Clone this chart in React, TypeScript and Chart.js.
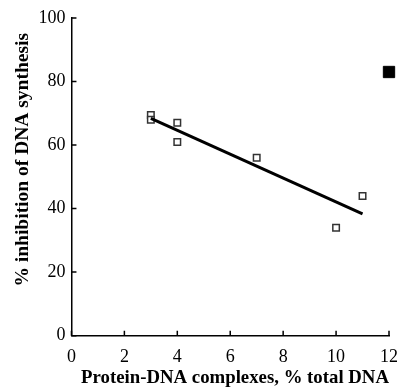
import React, { useEffect, useRef } from "react";
import { Chart, registerables } from "chart.js";

Chart.register(...registerables);

const openX = [3, 3, 4, 4, 7, 10, 11];
const openY = [69.5, 68, 67, 61, 56, 34, 44];
const filledX = [12];
const filledY = [83];
const fitX = [3, 11];
const fitY = [68.4, 38.3];
const xTicks = [0, 2, 4, 6, 8, 10, 12];
const yTicks = [0, 20, 40, 60, 80, 100];

const inwardTicks = {
  id: "inwardTicks",
  afterDraw(chart: any) {
    const { ctx, chartArea, scales } = chart;
    ctx.save();
    ctx.strokeStyle = "#000";
    ctx.lineWidth = 1.5;
    ctx.beginPath();
    xTicks.forEach((v) => {
      const px = scales.x.getPixelForValue(v);
      ctx.moveTo(px, chartArea.bottom);
      ctx.lineTo(px, chartArea.bottom - 5);
    });
    yTicks.forEach((v) => {
      const py = scales.y.getPixelForValue(v);
      ctx.moveTo(chartArea.left, py);
      ctx.lineTo(chartArea.left + 5, py);
    });
    ctx.stroke();
    ctx.restore();
  },
};

export default function App() {
  const ref = useRef<HTMLCanvasElement>(null);
  useEffect(() => {
    if (!ref.current) return;
    const xTickFont = { family: "'Liberation Serif', 'DejaVu Serif', serif", size: 18, lineHeight: 40.6 / 18 };
    const yTickFont = { family: "'Liberation Serif', 'DejaVu Serif', serif", size: 18 };
    const xTitleFont = { family: "'Liberation Serif', 'DejaVu Serif', serif", size: 18.8, weight: "bold" as const };
    const yTitleFont = { family: "'Liberation Serif', 'DejaVu Serif', serif", size: 19.5, weight: "bold" as const };
    const chart = new Chart(ref.current, {
      type: "scatter",
      data: {
        datasets: [
          {
            type: "line",
            data: fitX.map((x, i) => ({ x, y: fitY[i] })),
            borderColor: "#000",
            borderWidth: 3,
            pointRadius: 0,
            showLine: true,
            fill: false,
          },
          {
            data: openX.map((x, i) => ({ x, y: openY[i] })),
            pointStyle: "rect",
            pointRadius: 4.6,
            borderColor: "#333",
            borderWidth: 1.5,
            backgroundColor: "#fff",
          },
          {
            data: filledX.map((x, i) => ({ x, y: filledY[i] })),
            pointStyle: "rect",
            pointRadius: 8,
            borderColor: "#000",
            borderWidth: 1,
            backgroundColor: "#000",
            clip: false as any,
          },
        ],
      },
      options: {
        animation: false,
        responsive: false,
        layout: { padding: { left: 11, right: 0, top: 18, bottom: 1.1 } },
        plugins: { legend: { display: false }, tooltip: { enabled: false } },
        scales: {
          x: {
            type: "linear",
            min: 0,
            max: 12,
            afterBuildTicks: (s: any) => {
              s.ticks = xTicks.map((v) => ({ value: v }));
            },
            grid: { display: true, drawOnChartArea: false, drawTicks: false },
            border: { display: true, color: "#000", width: 1.5 },
            ticks: { color: "#000", font: xTickFont, padding: 1, maxRotation: 0 },
            title: {
              display: true,
              align: "end",
              text: "Protein-DNA complexes, % total DNA",
              color: "#000",
              font: xTitleFont,
              padding: { top: -10.9, bottom: 0 },
            },
          },
          y: {
            type: "linear",
            min: 0,
            max: 100,
            afterBuildTicks: (s: any) => {
              s.ticks = yTicks.map((v) => ({ value: v }));
            },
            grid: { display: true, drawOnChartArea: false, drawTicks: false },
            border: { display: true, color: "#000", width: 1.5 },
            ticks: { color: "#000", font: yTickFont, padding: 6 },
            title: {
              display: true,
              text: "       % inhibition of DNA synthesis",
              color: "#000",
              font: yTitleFont,
              padding: { top: 0, bottom: -1.94 },
            },
          },
        },
      },
      plugins: [inwardTicks],
    });
    return () => chart.destroy();
  }, []);
  return (
    <div style={{ position: "absolute", left: 0, top: 0, width: 399, height: 391, background: "#fff" }}>
      <canvas ref={ref} width={399} height={391} style={{ width: 399, height: 391 }} />
    </div>
  );
}
